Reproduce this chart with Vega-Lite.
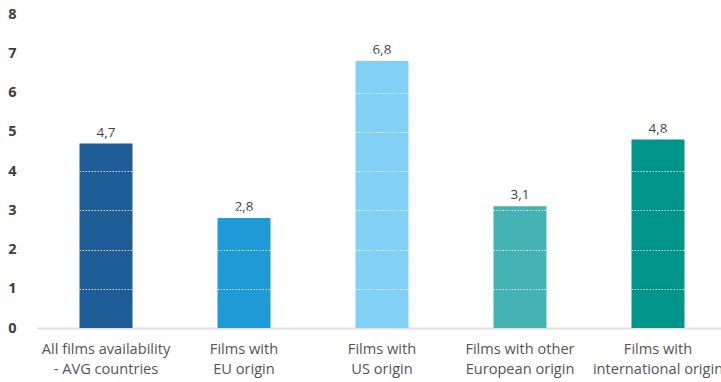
{
  "$schema": "https://vega.github.io/schema/vega-lite/v6.json",
  "autosize": "none",
  "width": 690,
  "height": 314,
  "padding": {"left": 37, "top": 14, "right": 0, "bottom": 54},
  "background": "white",
  "data": {
    "values": [
      {"category": "All films availability|- AVG countries", "value": 4.7, "label": "4,7", "color": "#1f5d99"},
      {"category": "Films with|EU origin", "value": 2.8, "label": "2,8", "color": "#1e9bd7"},
      {"category": "Films with|US origin", "value": 6.8, "label": "6,8", "color": "#82d0f5"},
      {"category": "Films with other|European origin", "value": 3.1, "label": "3,1", "color": "#45b3b3"},
      {"category": "Films with|international origin", "value": 4.8, "label": "4,8", "color": "#00958a"}
    ]
  },
  "config": {
    "view": {"stroke": null},
    "font": "Open Sans"
  },
  "encoding": {
    "x": {
      "field": "category",
      "type": "nominal",
      "sort": null,
      "scale": {"paddingInner": 0.616, "paddingOuter": 0.308},
      "axis": {
        "title": null,
        "labelAngle": 0,
        "labelExpr": "split(datum.label, '|')",
        "labelFontSize": 14.6,
        "labelColor": "#555555",
        "labelLineHeight": 20.5,
        "labelPadding": 13,
        "labelBaseline": "top",
        "ticks": false,
        "domainColor": "#e0e0e0",
        "domainWidth": 2,
        "labelLimit": 300
      }
    },
    "y": {
      "field": "value",
      "type": "quantitative",
      "scale": {"domain": [0, 8], "nice": false},
      "axis": {
        "title": null,
        "values": [0, 1, 2, 3, 4, 5, 6, 7, 8],
        "domain": false,
        "ticks": false,
        "labelFontSize": 14.5,
        "labelFontWeight": "bold",
        "labelColor": "#404040",
        "labelPadding": 21,
        "grid": true,
        "gridColor": {"condition": {"test": "datum.value === 0", "value": "transparent"}, "value": "#ffffff"},
        "gridDash": [1.5, 1.5],
        "gridOpacity": 0.8,
        "gridWidth": 1,
        "zindex": 1
      }
    }
  },
  "layer": [
    {
      "mark": {"type": "bar"},
      "encoding": {
        "color": {"field": "color", "type": "nominal", "scale": null}
      }
    },
    {
      "mark": {"type": "text", "dy": -11, "fontSize": 13.5, "color": "#444444"},
      "encoding": {
        "text": {"field": "label"}
      }
    }
  ]
}
